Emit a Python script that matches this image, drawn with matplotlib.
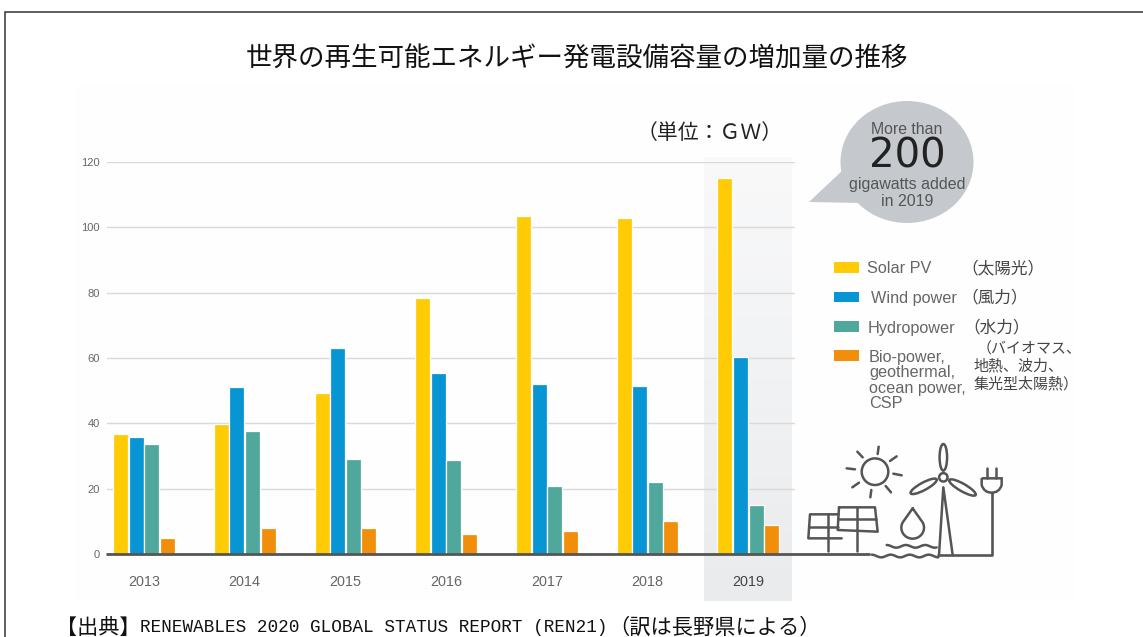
import numpy as np
import matplotlib
matplotlib.use("Agg")
import matplotlib.pyplot as plt
from matplotlib.patches import Rectangle, Ellipse, Polygon, Circle, PathPatch
from matplotlib.path import Path

years = ["2013", "2014", "2015", "2016", "2017", "2018", "2019"]
solar = [36.7, 39.8, 49.3, 78.3, 103.5, 103.0, 115.0]
wind = [35.7, 51.0, 63.0, 55.5, 52.0, 51.3, 60.3]
hydro = [33.7, 37.7, 29.2, 28.8, 20.7, 22.0, 15.0]
bio = [5.0, 8.0, 8.0, 6.0, 7.0, 10.0, 9.0]
yticks = [0, 20, 40, 60, 80, 100, 120]
series_colors = ["#ffcb05", "#0795d3", "#4fa89b", "#f18f0c"]

title = "世界の再生可能エネルギー発電設備容量の増加量の推移"
unit = "（単位：ＧＷ）"
src_a = "【出典】"
src_b = "RENEWABLES 2020 GLOBAL STATUS REPORT (REN21)"
src_c = "（訳は長野県による）"

W, H = 1143, 637
JP = ["Noto Sans CJK JP", "DejaVu Sans"]
SANS = "Liberation Sans"
INK = "#555555"
GREY = "#666666"

fig = plt.figure(figsize=(W / 100, H / 100), dpi=100, facecolor="white")


def pixel_axes(z):
    a = fig.add_axes([0, 0, 1, 1], zorder=z)
    a.set_axis_off()
    a.patch.set_alpha(0)
    return a


# background layer
bg = pixel_axes(0)
bg.add_patch(Rectangle((75, 84), 1000, 516, fc="#fefefe", ec="none", zorder=1))
grad = np.linspace(0, 1, 64)[:, None]
cmap = matplotlib.colors.LinearSegmentedColormap.from_list("band", ["#f9f9fa", "#f1f2f4", "#e9ebed"])
bg.imshow(grad, cmap=cmap, extent=(704, 791.7, 601, 157), aspect="auto", origin="upper", zorder=2)
bg.set_xlim(0, W)
bg.set_ylim(H, 0)

# chart
L, R, B, T = 107, 795, 554, 162
GROUP0, STEP = 144.0, 100.7
ax = fig.add_axes([L / W, 1 - B / H, (R - L) / W, (B - T) / H], zorder=1)
ax.patch.set_alpha(0)
x = np.arange(len(years))
bw = 15 / STEP
off = 15.6 / STEP
for k, (vals, c) in enumerate(zip([solar, wind, hydro, bio], series_colors)):
    ax.bar(x + (k - 1.5) * off, vals, width=bw, color=c, edgecolor="white", linewidth=0.9, zorder=3)
ax.set_xlim((L - GROUP0) / STEP, (R - GROUP0) / STEP)
ax.set_ylim(0, 120)
ax.set_yticks(yticks)
ax.set_xticks(x)
ax.set_xticklabels(years)
ax.set_axisbelow(True)
ax.grid(axis="y", color="#d9d9d9", linewidth=1.0)
ax.tick_params(axis="both", length=0)
ax.tick_params(axis="y", pad=5, labelsize=8, labelcolor=GREY)
ax.tick_params(axis="x", pad=15, labelsize=10.4, labelcolor=GREY)
for lab in ax.get_yticklabels() + ax.get_xticklabels():
    lab.set_family(SANS)
last = ax.get_xticklabels()[-1]
last.set_color("#444444")
for s in ax.spines.values():
    s.set_visible(False)

# overlay in pixel coordinates
ov = pixel_axes(2)
ov.set_xlim(0, W)
ov.set_ylim(H, 0)

# frame (left and top only)
ov.plot([4.5, 4.5, W], [H, 11.5, 11.5], color="#333333", lw=1.1, solid_joinstyle="miter")

# title, unit, source
ov.text(577, 59, title, family=JP, fontsize=19.1, ha="center", va="center", color="#111111")
ov.text(637, 133, unit, family=JP, fontsize=15, ha="left", va="center", color="#222222")
ov.text(56, 628, src_a, family=JP, fontsize=15.2, ha="left", va="center", color="#111111")
ov.text(140, 628, src_b, family="Liberation Mono", fontsize=12.7, ha="left", va="center", color="#111111")
ov.text(608, 628, src_c, family=JP, fontsize=15.3, ha="left", va="center", color="#111111")

# bubble
BUB = "#c5c9cd"
ov.add_patch(Ellipse((907, 162), 133, 122, fc=BUB, ec="none"))
ov.add_patch(Polygon([(809, 202), (843, 170), (860, 203)], closed=True, fc=BUB, ec="none"))
ov.text(907, 129, "More than", family=SANS, fontsize=11.4, ha="center", va="center", color="#555555")
ov.text(907, 156, "200", family="DejaVu Sans", fontsize=29, ha="center", va="center", color="#222222")
ov.text(907, 184, "gigawatts added", family=SANS, fontsize=11.5, ha="center", va="center", color="#555555")
ov.text(907, 202, "in 2019", family=SANS, fontsize=11.5, ha="center", va="center", color="#555555")

# legend
for c, y0, y1 in zip(series_colors, [262, 291.5, 321, 350], [273, 302, 331.5, 361]):
    ov.add_patch(Rectangle((833.5, y0), 25.5, y1 - y0, fc=c, ec="none"))
for s, xx, yy in [("Solar PV", 867, 268.5), ("Wind power", 871, 298.5), ("Hydropower", 868, 328)]:
    ov.text(xx, yy, s, family=SANS, fontsize=11.7, ha="left", va="center", color=GREY)
for s, yy in [("Bio-power,", 357.5), ("geothermal,", 372.5), ("ocean power,", 388.5), ("CSP", 403.5)]:
    ov.text(869, yy, s, family=SANS, fontsize=11.7, ha="left", va="center", color=GREY)
for s, xx, yy in [("（太陽光）", 961, 269), ("（風力）", 961, 298), ("（水力）", 963, 328)]:
    ov.text(xx, yy, s, family=JP, fontsize=12, ha="left", va="center", color="#444444")
for s, xx, yy in [("（バイオマス、", 977, 349), ("地熱、波力、", 974, 366), ("集光型太陽熱）", 974, 384)]:
    ov.text(xx, yy, s, family=JP, fontsize=10.8, ha="left", va="center", color="#444444")


# icon: coordinates from a 3x crop with origin (790, 430)
def ix(v):
    return 790 + np.asarray(v, dtype=float) / 3


def iy(v):
    return 430 + np.asarray(v, dtype=float) / 3


LW = 1.8


def seg(xs, ys, lw=LW):
    ov.plot(ix(xs), iy(ys), color=INK, lw=lw, solid_capstyle="round", solid_joinstyle="round")


# base line
ov.plot([105.5, 870], [554, 554], color=INK, lw=2.0, solid_capstyle="butt")
seg([445, 605, 605], [375, 375, 190], lw=1.9)

# sun
ov.add_patch(Circle((875, 471.7), 13.3, fc="none", ec=INK, lw=LW))
for xs, ys in [((263, 266), (72, 50)), ((300, 320), (93, 79)), ((310, 335), (131, 136)),
               ((287, 303), (168, 187)), ((241, 244), (202, 180)), ((187, 207), (172, 158)),
               ((170, 195), (115, 118)), ((202, 218), (65, 82))]:
    seg(xs, ys)

# solar panels
seg([147, 255, 263, 143, 147], [232, 232, 305, 300, 232])
seg([145, 258], [267, 267])
seg([200, 200], [232, 362])
seg([145, 60, 55, 155], [253, 253, 325, 325])
seg([57, 143], [290, 290])
seg([115, 115], [253, 362])

# water
wx = np.linspace(245, 445, 120)
seg(wx, 378 + 4 * np.cos((wx - 245) / 200 * 2 * np.pi * 3.5 + np.pi))
wx = np.linspace(290, 440, 90)
seg(wx, 349 + 4 * np.cos((wx - 290) / 150 * 2 * np.pi * 2.6 + np.pi))

# drop
t = np.linspace(-0.72 * np.pi, 0.72 * np.pi, 60)
dx = 368 + 34 * np.sin(t)
dy = 293 + 33 * np.cos(t)
seg(np.r_[368, dx, 368], np.r_[235, dy, 235])

# turbine
seg([447, 460, 488], [375, 172, 375])
ov.add_patch(Circle((ix(460), iy(142)), 4.2, fc="white", ec=INK, lw=LW))
for (x0, y0, x1, y1) in [(460, 122, 460, 42), (440, 148, 362, 190), (478, 150, 557, 195)]:
    p0 = np.array([ix(x0), iy(y0)])
    p1 = np.array([ix(x1), iy(y1)])
    d = p1 - p0
    ang = np.degrees(np.arctan2(d[1], d[0]))
    ov.add_patch(Ellipse(tuple((p0 + p1) / 2), np.hypot(*d), 7.5, angle=ang, fc="none", ec=INK, lw=LW))

# plug
seg([590, 590], [115, 145])
seg([618, 618], [115, 145])
verts = [(ix(575), iy(145)), (ix(635), iy(145)), (ix(635), iy(165)), (ix(628), iy(188)), (ix(605), iy(188)),
         (ix(582), iy(188)), (ix(575), iy(165)), (ix(575), iy(145))]
codes = [Path.MOVETO, Path.LINETO, Path.LINETO, Path.CURVE3, Path.CURVE3, Path.CURVE3, Path.CURVE3, Path.LINETO]
ov.add_patch(PathPatch(Path(verts, codes), fc="none", ec=INK, lw=LW))

fig.savefig("out.png", dpi=100, facecolor="white")
